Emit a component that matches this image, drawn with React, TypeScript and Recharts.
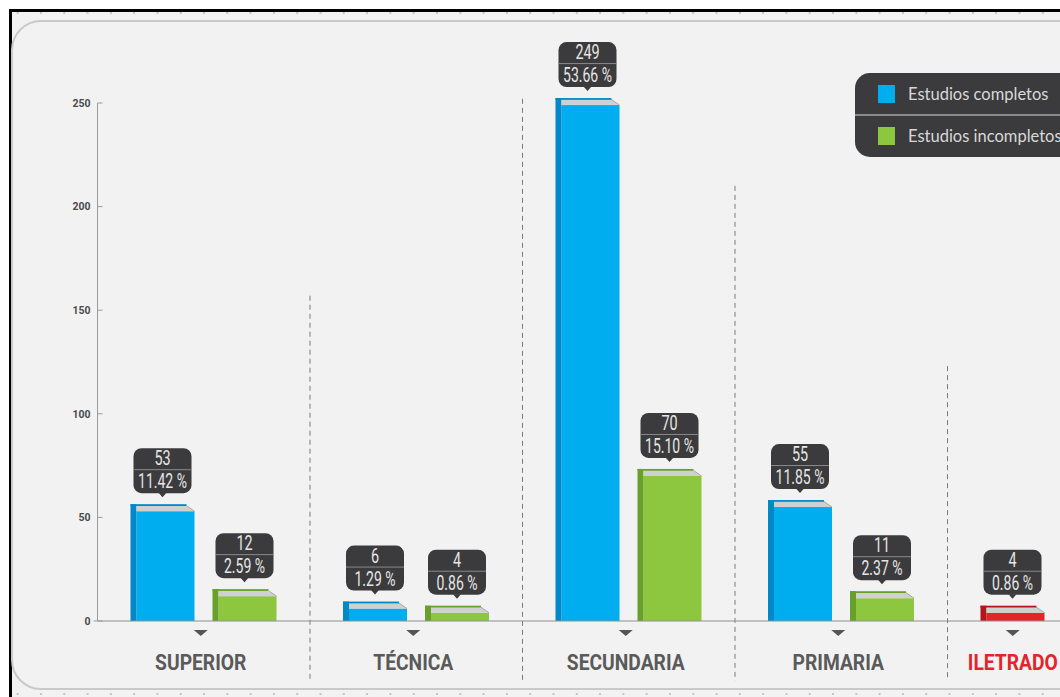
import React from 'react';
import { BarChart, Bar, XAxis, YAxis, Cell, LabelList, ReferenceLine, Legend } from 'recharts';

// ---------- data ----------
const categories = ['SUPERIOR', 'TÉCNICA', 'SECUNDARIA', 'PRIMARIA', 'ILETRADO'];
const completos: (number | null)[] = [53, 6, 249, 55, 4];
const incompletos: (number | null)[] = [12, 4, 70, 11, null];
const pctCompletos = ['11.42 %', '1.29 %', '53.66 %', '11.85 %', '0.86 %'];
const pctIncompletos = ['2.59 %', '0.86 %', '15.10 %', '2.37 %', null];
const yTicks = [0, 50, 100, 150, 200, 250];
const seriesNames = ['Estudios completos', 'Estudios incompletos'];
// values (in axis units) where the dashed separators after each category start / end
const dividerTops = [157, 252, 210, 123];
const dividerBottom = -29;

// ---------- style ----------
const BLUE = '#00aeef';
const GREEN = '#8dc63f';
const RED = '#e2242b';
const DARK: Record<string, string> = { [BLUE]: '#0088c8', [GREEN]: '#68a02c', [RED]: '#b3151b' };
const completosColors = [BLUE, BLUE, BLUE, BLUE, RED];
const labelColors = ['#5a5a5a', '#5a5a5a', '#5a5a5a', '#5a5a5a', RED];
const BAR_SIZE = 64;
const BAR_GAP = 18;
const FONT = 'Roboto, "Noto Sans", sans-serif';

const data = categories.map((c, i) => ({ cat: c, completos: completos[i], incompletos: incompletos[i] }));

const Bar3D = (props: any) => {
  const { x, y, width, height, fill } = props;
  if (height == null || !(height > 0) || x == null) return null;
  const s = 6;
  const d = 7;
  const dark = DARK[fill] || '#555';
  return (
    <g>
      <rect x={x + s} y={y} width={width - s} height={height} fill={fill} />
      <rect x={x} y={y - d} width={s} height={height + d} fill={dark} />
      <polygon
        points={`${x + s},${y - d + 1.5} ${x + width - 8},${y - d + 1.5} ${x + width},${y} ${x + s},${y}`}
        fill="#cfd0d0"
      />
      <rect x={x} y={y - d} width={width - 8} height={1.8} fill={dark} />
      <line x1={x + width - 8} y1={y - d + 1.5} x2={x + width} y2={y} stroke="#a9a9a9" strokeWidth={1} />
    </g>
  );
};

const makeCallout = (pcts: (string | null)[]) => (p: any) => {
  const vb = p.viewBox || {};
  const x = p.x ?? vb.x;
  const y = p.y ?? vb.y;
  const width = p.width ?? vb.width;
  const { value, index } = p;
  if (value == null || x == null) return null;
  const pct = pcts[index];
  const cx = x + width / 2;
  const w = 58;
  const h = 45;
  const bottom = y - 18;
  const top = bottom - h;
  return (
    <g>
      <rect x={cx - w / 2} y={top} width={w} height={h} rx={8} ry={8} fill="#3b3b3d" />
      <polygon points={`${cx - 4},${bottom - 0.5} ${cx + 4},${bottom - 0.5} ${cx},${bottom + 4}`} fill="#3b3b3d" />
      <line x1={cx - w / 2} x2={cx + w / 2} y1={top + 21.5} y2={top + 21.5} stroke="#8a8a8a" strokeWidth={1} />
      <text
        transform={`translate(${cx},${top + 17}) scale(0.72,1)`}
        textAnchor="middle"
        fontFamily={FONT}
        fontSize={20}
        fill="#e6e6e6"
      >
        {value}
      </text>
      {pct && (
        <text
          transform={`translate(${cx},${top + 40}) scale(0.7,1)`}
          textAnchor="middle"
          fontFamily={FONT}
          fontSize={20}
          fill="#e6e6e6"
        >
          {pct}
        </text>
      )}
    </g>
  );
};

const YTick = (props: any) => {
  const { x, y, payload } = props;
  const ax = x + 6;
  return (
    <g>
      <line x1={ax} x2={ax + 5} y1={y} y2={y} stroke="#9b9b9b" strokeWidth={1} />
      {payload.value === 0 && <line x1={ax - 4} x2={ax} y1={y} y2={y} stroke="#9b9b9b" strokeWidth={1} />}
      <text x={x - 1} y={y + 3.8} textAnchor="end" fontFamily={FONT} fontWeight={700} fontSize={10.5} fill="#4a4a4a">
        {payload.value}
      </text>
    </g>
  );
};

const XTick = (props: any) => {
  const { x, y, payload } = props;
  const i = payload.index ?? categories.indexOf(payload.value);
  const shift = incompletos[i] == null ? -(BAR_SIZE + BAR_GAP) / 2 : -3;
  const cx = x + shift;
  return (
    <g>
      <polygon points={`${cx - 7},${y + 9} ${cx + 7},${y + 9} ${cx},${y + 15}`} fill="#555" />
      <text
        transform={`translate(${cx},${y + 49}) scale(0.875,1)`}
        textAnchor="middle"
        fontFamily={FONT}
        fontWeight={700}
        fontSize={22}
        fill={labelColors[i]}
      >
        {payload.value}
      </text>
    </g>
  );
};

const LegendBox = (props: any) => {
  const payload = props.payload || [];
  return (
    <div
      style={{
        width: 260,
        height: 84,
        background: '#3b3b3d',
        borderRadius: 15,
        boxSizing: 'border-box',
        fontFamily: 'Lato, "Open Sans", sans-serif',
        overflow: 'hidden',
      }}
    >
      {payload.map((e: any, i: number) => (
        <div
          key={i}
          style={{
            height: 41,
            display: 'flex',
            alignItems: 'center',
            borderTop: i > 0 ? '2px solid #8a8a8a' : 'none',
            boxSizing: 'border-box',
          }}
        >
          <div style={{ width: 17, height: 18, background: e.color, marginLeft: 23, marginRight: 13 }} />
          <span style={{ color: '#d8d8d8', fontSize: 16.5, whiteSpace: 'nowrap' }}>{e.value}</span>
        </div>
      ))}
    </div>
  );
};

export default function App() {
  return (
    <div
      style={{
        position: 'absolute',
        left: 0,
        top: 0,
        width: 1060,
        height: 697,
        overflow: 'hidden',
        background: '#ffffff',
      }}
    >
      <style>{`body{margin:0;overflow:hidden}`}</style>
      {/* frame */}
      <div style={{ position: 'absolute', left: 9, top: 9, width: 1100, height: 700, borderTop: '3px solid #000', borderLeft: '3px solid #000', background: '#f2f2f2' }} />
      <div
        style={{
          position: 'absolute',
          left: 12,
          top: 11,
          width: 1048,
          height: 4,
          backgroundImage: 'radial-gradient(circle, #c4c4c4 0.9px, rgba(0,0,0,0) 1.4px)',
          backgroundSize: '23.3px 4px',
          backgroundPosition: '-6px 0',
        }}
      />
      <div
        style={{
          position: 'absolute',
          left: 12,
          top: 692,
          width: 1048,
          height: 4,
          backgroundImage: 'radial-gradient(circle, #c4c4c4 0.9px, rgba(0,0,0,0) 1.4px)',
          backgroundSize: '23.3px 4px',
          backgroundPosition: '-6px 0',
        }}
      />
      <div
        style={{
          position: 'absolute',
          left: 11,
          top: 20,
          width: 1120,
          height: 670,
          boxSizing: 'border-box',
          border: '2px solid #c9c9c9',
          borderRadius: 30,
          background: '#f2f2f2',
        }}
      />
      <div style={{ position: 'absolute', left: 0, top: 0 }}>
        <BarChart
          width={1170}
          height={697}
          data={data}
          margin={{ top: 103, right: 10, bottom: 16, left: 37.5 }}
          barGap={BAR_GAP}
          barSize={BAR_SIZE}
        >
          <XAxis
            dataKey="cat"
            height={60}
            tickLine={false}
            tickSize={0}
            tickMargin={0}
            interval={0}
            axisLine={{ stroke: '#8f8f8f', strokeWidth: 1.2 }}
            tick={<XTick />}
          />
          <YAxis
            type="number"
            domain={[0, 250]}
            ticks={yTicks}
            width={60}
            tickSize={0}
            tickMargin={6}
            tickLine={false}
            interval={0}
            axisLine={{ stroke: '#9b9b9b' }}
            tick={<YTick />}
          />
          {dividerTops.map((t, i) => (
            <ReferenceLine
              key={i}
              segment={[
                { x: categories[i], y: t },
                { x: categories[i], y: dividerBottom },
              ]}
              position="end"
              stroke="#7a7a7a"
              strokeDasharray="5 4"
              ifOverflow="visible"
            />
          ))}
          <Legend
            layout="vertical"
            align="center"
            verticalAlign="middle"
            wrapperStyle={{ left: 855, top: 73, width: 260, height: 84 }}
            content={<LegendBox />}
          />
          <Bar dataKey="completos" name={seriesNames[0]} fill={BLUE} shape={<Bar3D />} isAnimationActive={false}>
            {data.map((_, i) => (
              <Cell key={i} fill={completosColors[i]} />
            ))}
            <LabelList dataKey="completos" content={makeCallout(pctCompletos)} />
          </Bar>
          <Bar dataKey="incompletos" name={seriesNames[1]} fill={GREEN} shape={<Bar3D />} isAnimationActive={false}>
            <LabelList dataKey="incompletos" content={makeCallout(pctIncompletos)} />
          </Bar>
        </BarChart>
      </div>
    </div>
  );
}
